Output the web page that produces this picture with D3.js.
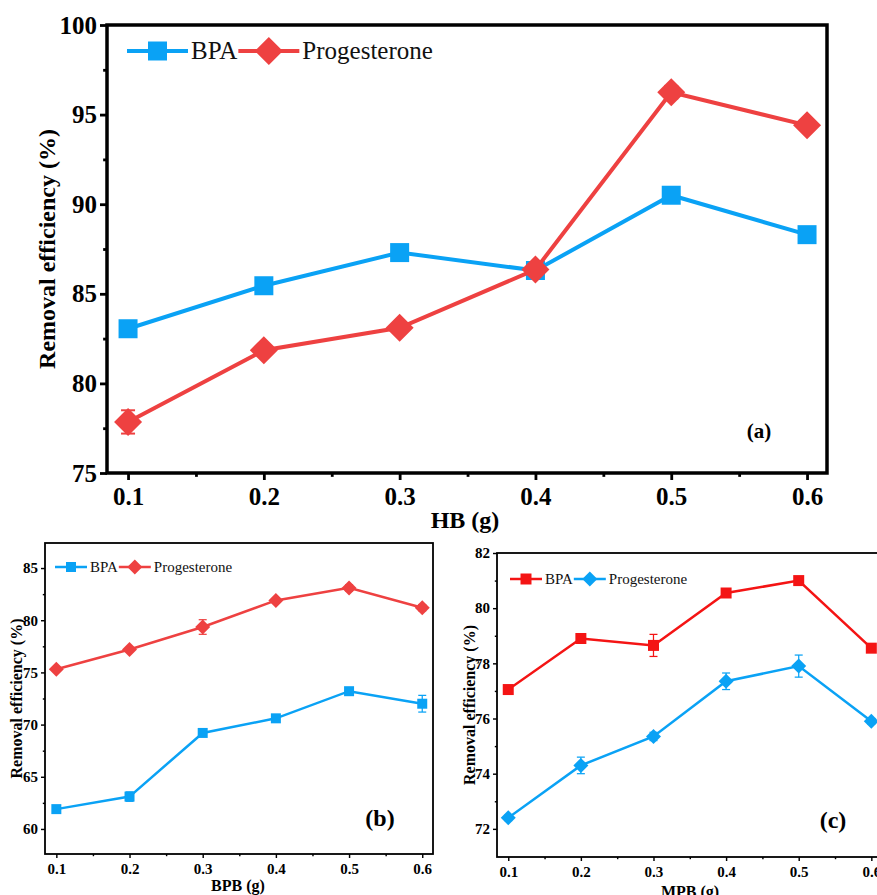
<!DOCTYPE html>
<html>
<head>
<meta charset="utf-8">
<script src="https://cdn.jsdelivr.net/npm/d3@7/dist/d3.min.js"></script>
<style>
  body { margin: 0; background: #fff; }
  svg text { font-family: "Liberation Serif", "Times New Roman", Times, "DejaVu Serif", serif; }
</style>
</head>
<body>
<svg id="chart" width="877" height="895"></svg>
<script>
// ---- data ----
const doses = [0.1, 0.2, 0.3, 0.4, 0.5, 0.6];
const xTicks = [0.1, 0.2, 0.3, 0.4, 0.5, 0.6];
const xMinor = [0.15, 0.25, 0.35, 0.45, 0.55];

// (a) HB
const hbBPA = [83.05, 85.45, 87.3, 86.3, 90.5, 88.3];
const hbBPAErr = [0.15, 0.2, 0.2, 0.2, 0.35, 0.2];
const hbProg = [77.85, 81.85, 83.1, 86.35, 96.25, 94.4];
const hbProgErr = [0.65, 0.2, 0.2, 0.2, 0.35, 0.2];
const yTicksA = [75, 80, 85, 90, 95, 100];
const yMinorA = [77.5, 82.5, 87.5, 92.5, 97.5];

// (b) BPB
const bpbBPA = [61.9, 63.1, 69.2, 70.6, 73.2, 72.0];
const bpbBPAErr = [0.2, 0.45, 0.25, 0.25, 0.25, 0.8];
const bpbProg = [75.3, 77.2, 79.35, 81.9, 83.1, 81.2];
const bpbProgErr = [0.2, 0.2, 0.7, 0.2, 0.3, 0.3];
const yTicksB = [60, 65, 70, 75, 80, 85];
const yMinorB = [62.5, 67.5, 72.5, 77.5, 82.5];

// (c) MPB
const mpbBPA = [77.05, 78.9, 78.65, 80.55, 81.0, 78.55];
const mpbBPAErr = [0.1, 0.15, 0.4, 0.15, 0.1, 0.1];
const mpbProg = [72.4, 74.3, 75.35, 77.35, 77.9, 75.9];
const mpbProgErr = [0.1, 0.3, 0.15, 0.3, 0.4, 0.1];
const yTicksC = [72, 74, 76, 78, 80, 82];
const yMinorC = [73, 75, 77, 79, 81];

const seriesNames = ["BPA", "Progesterone"];

const BLUE = "#0aa2f5";
const RED_A = "#ee4141";
const RED_C = "#f41414";
const SERIF = "'Liberation Serif', 'Times New Roman', Times, 'DejaVu Serif', serif";

const svg = d3.select("#chart");

function marker(shape, size) {
    // diamond = square rotated 45 degrees
    return d3.symbol().type(d3.symbolSquare).size(shape === "diamond" ? size * size / 2 : size * size)();
}

function drawPanel(p) {
    const g = svg.append("g");

    const x = d3.scaleLinear().domain([0.0845, 0.6147]).range([p.left, p.right]);
    const y = d3.scaleLinear().domain(p.yDomain).range([p.bottom, p.top]);

    // ticks (outward)
    const xAxis = g.append("g")
        .attr("transform", `translate(0,${p.bottom})`)
        .call(d3.axisBottom(x).tickValues(xTicks).tickSize(p.tickLen).tickSizeOuter(0)
            .tickPadding(p.xPad).tickFormat(d3.format(".1f")));
    const xMin = g.append("g")
        .attr("transform", `translate(0,${p.bottom})`)
        .call(d3.axisBottom(x).tickValues(xMinor).tickSize(p.tickLen * 0.55).tickFormat(""));
    const yAxis = g.append("g")
        .attr("transform", `translate(${p.left},0)`)
        .call(d3.axisLeft(y).tickValues(p.yTicks).tickSize(p.tickLen).tickSizeOuter(0)
            .tickPadding(p.yPad).tickFormat(d3.format("d")));
    const yMin = g.append("g")
        .attr("transform", `translate(${p.left},0)`)
        .call(d3.axisLeft(y).tickValues(p.yMinor).tickSize(p.tickLen * 0.55).tickFormat(""));

    [xAxis, xMin, yAxis, yMin].forEach(a => {
        a.attr("font-family", SERIF);
        a.select(".domain").remove();
        a.selectAll("line").attr("stroke", "#000").attr("stroke-width", p.frameW * 0.8);
        a.selectAll("text")
            .attr("fill", "#000")
            .attr("font-family", SERIF)
            .attr("font-weight", "bold")
            .attr("font-size", p.tickFont);
    });

    // frame
    g.append("rect")
        .attr("x", p.left).attr("y", p.top)
        .attr("width", p.right - p.left).attr("height", p.bottom - p.top)
        .attr("fill", "none").attr("stroke", "#000").attr("stroke-width", p.frameW);

    // series
    p.series.forEach(s => {
        const pts = doses.map((d, i) => ({ x: d, y: s.values[i], e: s.errors[i] }));
        const line = d3.line().x(d => x(d.x)).y(d => y(d.y));
        g.append("path")
            .datum(pts)
            .attr("fill", "none")
            .attr("stroke", s.color)
            .attr("stroke-width", p.lineW)
            .attr("d", line);

        // error bars
        const eb = g.selectAll(null).data(pts).enter().append("g").attr("stroke", s.color).attr("stroke-width", p.lineW * 0.5);
        eb.append("line")
            .attr("x1", d => x(d.x)).attr("x2", d => x(d.x))
            .attr("y1", d => y(d.y - d.e)).attr("y2", d => y(d.y + d.e));
        eb.append("line")
            .attr("x1", d => x(d.x) - p.cap).attr("x2", d => x(d.x) + p.cap)
            .attr("y1", d => y(d.y - d.e)).attr("y2", d => y(d.y - d.e));
        eb.append("line")
            .attr("x1", d => x(d.x) - p.cap).attr("x2", d => x(d.x) + p.cap)
            .attr("y1", d => y(d.y + d.e)).attr("y2", d => y(d.y + d.e));

        g.selectAll(null).data(pts).enter().append("path")
            .attr("d", marker(s.shape, s.shape === "diamond" ? p.diamond : p.square))
            .attr("transform", d => `translate(${x(d.x)},${y(d.y)})` + (s.shape === "diamond" ? " rotate(45)" : ""))
            .attr("fill", s.color);
    });

    // legend
    let lx = p.legX;
    p.series.forEach((s, i) => {
        g.append("line")
            .attr("x1", lx).attr("x2", lx + p.legLine)
            .attr("y1", p.legY).attr("y2", p.legY)
            .attr("stroke", s.color).attr("stroke-width", p.lineW);
        g.append("path")
            .attr("d", marker(s.shape, s.shape === "diamond" ? p.diamond : p.square))
            .attr("transform", `translate(${lx + p.legLine / 2},${p.legY})` + (s.shape === "diamond" ? " rotate(45)" : ""))
            .attr("fill", s.color);
        const t = g.append("text")
            .attr("x", lx + p.legLine + 3)
            .attr("y", p.legY + p.legFont * 0.33)
            .attr("font-family", SERIF)
            .attr("font-size", p.legFont)
            .attr("fill", "#111")
            .text(seriesNames[i]);
        lx = lx + p.legLine + 3 + t.node().getComputedTextLength() + 1;
    });

    // axis titles
    g.append("text")
        .attr("transform", `translate(${p.yLabX},${(p.top + p.bottom) / 2}) rotate(-90)`)
        .attr("text-anchor", "middle")
        .attr("font-family", SERIF)
        .attr("font-weight", "bold")
        .attr("font-size", p.labFont)
        .text("Removal efficiency (%)");
    g.append("text")
        .attr("x", p.xLabX)
        .attr("y", p.xLabY)
        .attr("text-anchor", "middle")
        .attr("font-family", SERIF)
        .attr("font-weight", "bold")
        .attr("font-size", p.labFont)
        .text(p.xTitle);

    // panel tag
    g.append("text")
        .attr("x", p.tagX).attr("y", p.tagY)
        .attr("text-anchor", "middle")
        .attr("font-family", SERIF)
        .attr("font-weight", "bold")
        .attr("font-size", p.tagFont)
        .text(p.tag);
}

// (a)
drawPanel({
    left: 107, top: 25, right: 827, bottom: 473,
    yDomain: [75, 100], yTicks: yTicksA, yMinor: yMinorA,
    tickLen: 7, xPad: 7, yPad: 3, tickFont: 25, frameW: 3.5,
    lineW: 4, square: 19, diamond: 28, cap: 7,
    series: [
        { values: hbBPA, errors: hbBPAErr, color: BLUE, shape: "square" },
        { values: hbProg, errors: hbProgErr, color: RED_A, shape: "diamond" }
    ],
    legX: 127, legY: 51, legLine: 61, legFont: 25,
    yLabX: 55, xLabX: 465, xLabY: 528, labFont: 24, xTitle: "HB (g)",
    tag: "(a)", tagX: 759, tagY: 438, tagFont: 21
});

// (b)
drawPanel({
    left: 45, top: 543, right: 433, bottom: 854,
    yDomain: [57.6, 87.4], yTicks: yTicksB, yMinor: yMinorB,
    tickLen: 4, xPad: 5, yPad: 3, tickFont: 15, frameW: 1.8,
    lineW: 2.5, square: 10, diamond: 15, cap: 4,
    series: [
        { values: bpbBPA, errors: bpbBPAErr, color: BLUE, shape: "square" },
        { values: bpbProg, errors: bpbProgErr, color: RED_A, shape: "diamond" }
    ],
    legX: 55, legY: 567, legLine: 32, legFont: 15,
    yLabX: 22, xLabX: 238, xLabY: 891, labFont: 16, xTitle: "BPB (g)",
    tag: "(b)", tagX: 380, tagY: 826, tagFont: 24
});

// (c)
drawPanel({
    left: 497, top: 553, right: 882, bottom: 857,
    yDomain: [70.98, 82], yTicks: yTicksC, yMinor: yMinorC,
    tickLen: 4, xPad: 5, yPad: 3, tickFont: 15, frameW: 1.8,
    lineW: 2.5, square: 11, diamond: 15, cap: 4,
    series: [
        { values: mpbBPA, errors: mpbBPAErr, color: RED_C, shape: "square" },
        { values: mpbProg, errors: mpbProgErr, color: BLUE, shape: "diamond" }
    ],
    legX: 510, legY: 579, legLine: 32, legFont: 15,
    yLabX: 475, xLabX: 690, xLabY: 897, labFont: 16, xTitle: "MPB (g)",
    tag: "(c)", tagX: 833, tagY: 828, tagFont: 24
});
</script>
</body>
</html>
